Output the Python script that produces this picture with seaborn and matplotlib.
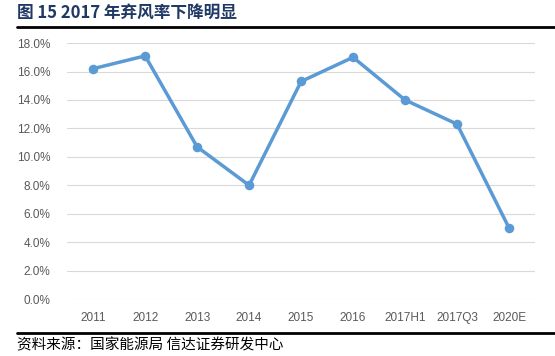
import matplotlib
matplotlib.use("Agg")
import matplotlib.pyplot as plt
import seaborn as sns
import pandas as pd

years = ["2011", "2012", "2013", "2014", "2015", "2016", "2017H1", "2017Q3", "2020E"]
rate = [16.2, 17.1, 10.7, 8.0, 15.3, 17.0, 14.0, 12.3, 5.0]

df = pd.DataFrame({"year": years, "rate": rate})

sns.set_style("white")
plt.rcParams["font.family"] = ["Noto Sans CJK SC", "DejaVu Sans"]

fig = plt.figure(figsize=(5.55, 3.56), dpi=100)
ax = fig.add_axes([0.121, 0.160, 0.843, 0.719])

sns.pointplot(data=df, x="year", y="rate", ax=ax, color="#5B9BD5",
              markers="o", markersize=5, linewidth=2.5)

ax.set_ylim(0, 18)
ax.set_yticks(range(0, 19, 2))
ax.set_yticklabels([f"{v:.1f}%" for v in range(0, 19, 2)])
ax.set_xlim(-0.5, len(years) - 0.5)
ax.yaxis.grid(True, color="#D9D9D9", linewidth=0.8)
ax.set_axisbelow(True)
for s in ax.spines.values():
    s.set_visible(False)
ax.tick_params(axis="both", length=0, labelsize=8.5, colors="#595959")
ax.tick_params(axis="x", pad=9)
ax.tick_params(axis="y", pad=12)
for lab in ax.get_xticklabels() + ax.get_yticklabels():
    lab.set_family("Liberation Sans")
ax.set_xlabel("")
ax.set_ylabel("")

# 标题与来源
fig.text(0.03, 0.965, "图 15 2017 年弃风率下降明显", fontsize=12, fontweight="bold",
         color="#1F3864", va="center")
fig.add_artist(plt.Line2D([0.03, 1.0], [0.924, 0.924], color="black", linewidth=2))
fig.add_artist(plt.Line2D([0.03, 1.0], [0.065, 0.065], color="black", linewidth=2))
fig.text(0.03, 0.03, "资料来源：国家能源局 信达证券研发中心", fontsize=10.5, va="center",
         color="black")

fig.savefig("out.png", dpi=100)
